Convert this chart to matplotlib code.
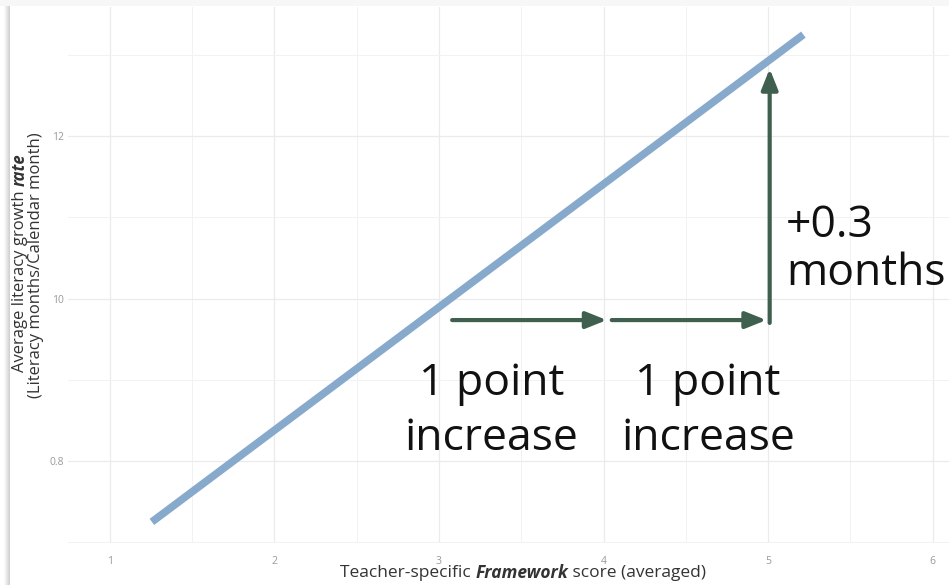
import matplotlib.pyplot as plt
import matplotlib.patches as mpatches
import numpy as np

plt.rcParams['font.family'] = ['Open Sans', 'DejaVu Sans']

# fitted line (teacher framework score -> growth rate)
line_x = [1.255, 5.215]
line_y = [0.725, 1.325]

x_ticks = [1, 2, 3, 4, 5, 6]
x_tick_labels = ['1', '2', '3', '4', '5', '6']
y_ticks = [0.8, 1.0, 1.2]
y_tick_labels = ['0.8', '10', '12']

# annotation arrows (start, end) in data units
arrows = [((3.08, 0.9735), (4.02, 0.9735)),
          ((4.05, 0.9735), (4.99, 0.9735)),
          ((5.01, 0.970), (5.01, 1.283))]
arrow_col = '#3f5f4f'
line_col = '#87a9cc'

fig = plt.figure(figsize=(9.49, 5.85), dpi=100)
W, H = 949, 585

# page shadow on the left / top
for i, a in enumerate(np.linspace(0.02, 0.18, 6)):
    fig.patches.append(mpatches.Rectangle(((4 + i) / W, 0), 1 / W, 1 - (6 - i) / H,
                                          transform=fig.transFigure, color='black',
                                          alpha=a, lw=0, zorder=0))
fig.patches.append(mpatches.Rectangle((0, 1 - 6 / H), 1, 6 / H, transform=fig.transFigure,
                                      color='#f7f7f7', lw=0, zorder=0))

ax = fig.add_axes([68 / W, 1 - 543 / H, (949 - 68) / W, (543 - 7) / H])

for s in ax.spines.values():
    s.set_visible(False)
ax.set_xticks(x_ticks)
ax.set_xticklabels(x_tick_labels)
ax.set_yticks(y_ticks)
ax.set_yticklabels(y_tick_labels)
ax.set_xticks(np.arange(1.5, 6.1, 0.5), minor=True)
ax.set_yticks([0.7, 0.9, 1.1, 1.3], minor=True)
ax.set_xlim(0.745, 6.10)
ax.set_ylim(0.699, 1.359)
ax.tick_params(which='both', length=0, colors='#9a9a9a', labelsize=7.5)
ax.tick_params(axis='x', pad=9)
ax.tick_params(axis='y', pad=3)
ax.tick_params(axis='x', which='minor', labelbottom=False)
ax.grid(which='major', color='#ebebeb', lw=0.9)
ax.grid(which='minor', color='#f2f2f2', lw=0.7)
ax.set_axisbelow(True)

ax.plot(line_x, line_y, color=line_col, lw=5.5, solid_capstyle='butt')

for (x0, y0), (x1, y1) in arrows:
    ax.annotate('', xy=(x1, y1), xytext=(x0, y0),
                arrowprops=dict(arrowstyle='-|>,head_length=1.25,head_width=0.5',
                                color=arrow_col, lw=3, shrinkA=0, shrinkB=0))

big = dict(fontsize=32, color='#111111', va='baseline')
for cx in [3.32, 4.635]:
    ax.text(cx, 0.881, '1 point', ha='center', **big)
    ax.text(cx, 0.8135, 'increase', ha='center', **big)
ax.text(5.11, 1.0757, '+0.3', ha='left', **big)
ax.text(5.11, 1.0166, 'months', ha='left', **big)

# mixed-style axis labels
fig.canvas.draw()
rend = fig.canvas.get_renderer()


def pieces(parts, x, y, rotation=0, size=13, color='#333333'):
    objs = []
    for txt, kw in parts:
        t = fig.text(0, 0, txt, fontsize=size, color=color, rotation=rotation,
                     va='center', ha='left' if rotation == 0 else 'center', **kw)
        objs.append(t)
    widths = []
    for t in objs:
        bb = t.get_window_extent(rend)
        widths.append(bb.width if rotation == 0 else bb.height)
    total = sum(widths)
    pos = -total / 2
    for t, w in zip(objs, widths):
        if rotation == 0:
            t.set_position(((x + pos) / W, 1 - y / H))
        else:
            t.set_position((x / W, 1 - (y - pos - w / 2) / H))
        pos += w


pieces([('Teacher-specific ', {}), ('Framework', dict(weight='bold', style='italic')),
        (' score (averaged)', {})], 523, 573, size=12.5)
pieces([('Average literacy growth ', {}), ('rate', dict(weight='bold', style='italic'))],
       20, 263, rotation=90, size=12)
pieces([('(Literacy months/Calendar month)', {})], 36, 265, rotation=90, size=12)

fig.savefig('out.png', dpi=100, facecolor='white')
